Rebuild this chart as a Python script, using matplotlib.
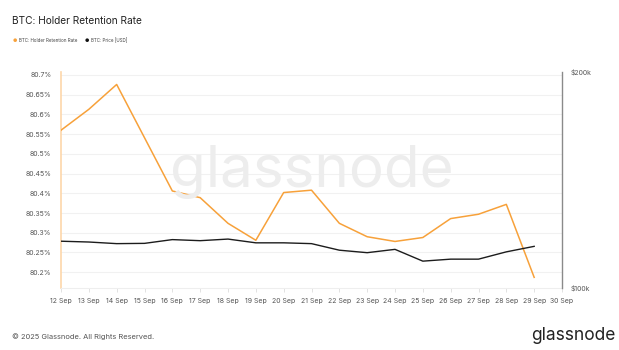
import numpy as np
import matplotlib
matplotlib.use("Agg")
import matplotlib.pyplot as plt
import matplotlib.ticker as mticker

plt.rcParams['font.family'] = ['Inter', 'DejaVu Sans']

# data
days = ["12 Sep", "13 Sep", "14 Sep", "15 Sep", "16 Sep", "17 Sep", "18 Sep", "19 Sep",
        "20 Sep", "21 Sep", "22 Sep", "23 Sep", "24 Sep", "25 Sep", "26 Sep", "27 Sep",
        "28 Sep", "29 Sep", "30 Sep"]
retention = [80.560, 80.613, 80.676, 80.541, 80.406, 80.389, 80.324, 80.281, 80.402,
             80.408, 80.324, 80.290, 80.278, 80.288, 80.336, 80.347, 80.372, 80.187]
price = [116.2, 115.9, 115.3, 115.4, 116.8, 116.4, 117.0, 115.6, 115.6, 115.3, 112.9,
         112.0, 113.2, 109.0, 109.7, 109.7, 112.3, 114.3]  # thousands USD
left_ticks = [80.2, 80.25, 80.3, 80.35, 80.4, 80.45, 80.5, 80.55, 80.6, 80.65, 80.7]
left_labels = ["80.2%", "80.25%", "80.3%", "80.35%", "80.4%", "80.45%", "80.5%",
               "80.55%", "80.6%", "80.65%", "80.7%"]

orange = "#f7a13a"
fig = plt.figure(figsize=(6.19, 3.5), dpi=100)
ax = fig.add_axes([61 / 619, 1 - 288 / 350, (562 - 61) / 619, (288 - 72) / 350])

x = np.arange(len(retention))
ax.plot(x, retention, color=orange, lw=1.1, zorder=3)
ax.set_xlim(0, len(days) - 1)
ax.set_ylim(80.160, 80.7076)
ax.set_yticks(left_ticks)
ax.set_yticklabels(left_labels)
ax.set_xticks(np.arange(len(days)))
ax.set_xticklabels(days)
ax.grid(axis='y', color="#f1f1f1", lw=0.8)
ax.set_axisbelow(True)
ax.tick_params(axis='y', length=0, labelsize=5, labelcolor="#555555", pad=7)
ax.tick_params(axis='x', length=3, width=0.6, color="#dddddd", labelsize=5,
               labelcolor="#555555", pad=4)
for s in ['top', 'right']:
    ax.spines[s].set_visible(False)
ax.spines['left'].set_color("#fdd7aa")
ax.spines['left'].set_linewidth(1.2)
ax.spines['bottom'].set_color("#eeeeee")
ax.spines['bottom'].set_linewidth(0.8)

ax2 = ax.twinx()
ax2.plot(x, np.array(price) * 1000, color="#1c1c1c", lw=1.0, zorder=3)
ax2.set_yscale('log')
ax2.set_ylim(100000, 200000)
ax2.yaxis.set_major_locator(mticker.FixedLocator([100000, 200000]))
ax2.yaxis.set_minor_locator(mticker.NullLocator())
ax2.set_yticklabels(["$100k", "$200k"])
ax2.tick_params(axis='y', length=0, labelsize=5, labelcolor="#555555", pad=6)
for s in ['top', 'left', 'bottom']:
    ax2.spines[s].set_visible(False)
ax2.spines['right'].set_color("#8a8a8a")
ax2.spines['right'].set_linewidth(1.0)

# watermark
fig.text(312 / 619, 1 - 172 / 350, "glassnode", fontsize=42, color="#ededed",
         ha='center', va='center', zorder=0)

fig.text(12 / 619, 1 - 21 / 350, "BTC: Holder Retention Rate", fontsize=7.3,
         color="#222222", va='center')
fig.text(13 / 619, 1 - 40.5 / 350, "\u25cf", fontsize=3.5, color=orange, va='center')
fig.text(19 / 619, 1 - 40.5 / 350, "BTC: Holder Retention Rate", fontsize=3.25,
         color="#444444", va='center')
fig.text(84.5 / 619, 1 - 40.5 / 350, "\u25cf", fontsize=3.5, color="#111111", va='center')
fig.text(91 / 619, 1 - 40.5 / 350, "BTC: Price [USD]", fontsize=3.25,
         color="#444444", va='center')

fig.text(12 / 619, 1 - 337 / 350, "\u00a9 2025 Glassnode. All Rights Reserved.",
         fontsize=5.4, color="#555555", va='center')
fig.text(615 / 619, 1 - 336 / 350, "glassnode", fontsize=12.5, color="#222222",
         va='center', ha='right')

fig.savefig("out.png", dpi=100, facecolor="white")
